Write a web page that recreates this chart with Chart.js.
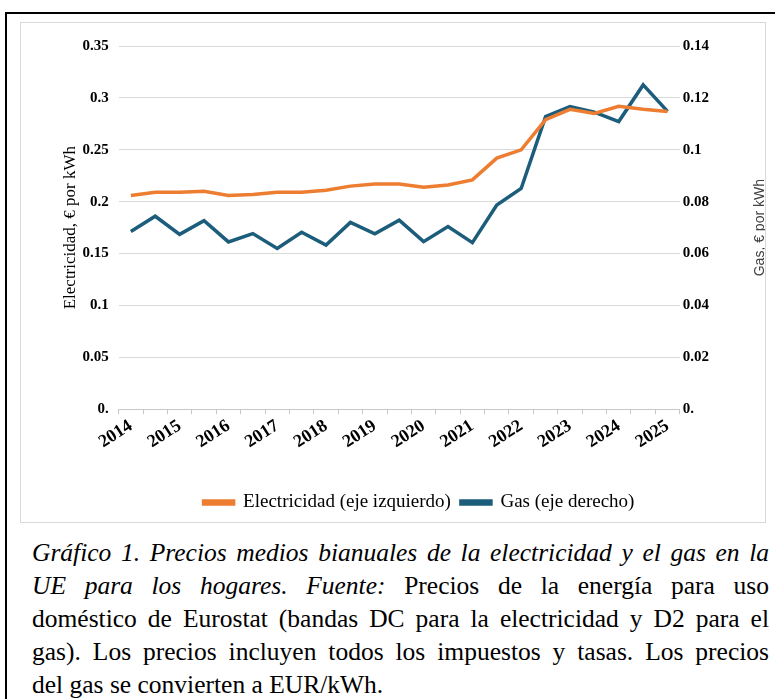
<!DOCTYPE html>
<html>
<head>
<meta charset="utf-8">
<script src="https://cdn.jsdelivr.net/npm/chart.js@4/dist/chart.umd.min.js"></script>
<style>
  html, body { margin: 0; padding: 0; background: #fff; overflow: hidden; }
  #frame { position: absolute; left: 5px; top: 12px; width: 800px; height: 800px; border: 2px solid #000; }
  #box { position: absolute; left: 20px; top: 22px; width: 744px; height: 499px; border: 1px solid #d9d9d9; }
  #wrap { position: absolute; left: 21px; top: 23px; width: 744px; height: 499px; }
  #caption {
    position: absolute; left: 32px; top: 536px; width: 737px;
    font-family: "Liberation Serif", "Times New Roman", serif;
    font-size: 25.5px; line-height: 33px; color: #000;
  }
  #caption .ln { white-space: nowrap; text-align: justify; text-align-last: justify; }
  #caption .ln.fin { text-align: left; text-align-last: left; }
</style>
</head>
<body>
<div id="frame"></div>
<div id="box"></div>
<div id="wrap"><canvas id="chart"></canvas></div>
<div id="caption">
  <div class="ln"><i>Gráfico 1. Precios medios bianuales de la electricidad y el gas en la</i></div>
  <div class="ln"><i>UE para los hogares. Fuente:</i> Precios de la energía para uso</div>
  <div class="ln">doméstico de Eurostat (bandas DC para la electricidad y D2 para el</div>
  <div class="ln">gas). Los precios incluyen todos los impuestos y tasas. Los precios</div>
  <div class="ln fin">del gas se convierten a EUR/kWh.</div>
</div>
<script>
// semestres 2014-S1 ... 2025-S1, etiqueta solo en el primero de cada año
const categories = ['2014', '', '2015', '', '2016', '', '2017', '', '2018', '', '2019', '',
  '2020', '', '2021', '', '2022', '', '2023', '', '2024', '', '2025'];

// €/kWh, eje izquierdo
const electricidad = [0.206, 0.209, 0.209, 0.210, 0.206, 0.207, 0.209, 0.209, 0.211, 0.215, 0.217, 0.217,
  0.214, 0.216, 0.221, 0.242, 0.250, 0.279, 0.289, 0.285, 0.292, 0.289, 0.287];

// €/kWh, eje derecho
const gas = [0.0685, 0.0744, 0.0674, 0.0727, 0.0645, 0.0677, 0.0620, 0.0682, 0.0633, 0.0720, 0.0676, 0.0729,
  0.0646, 0.0704, 0.0642, 0.0787, 0.0851, 0.1128, 0.1167, 0.1145, 0.1109, 0.1250, 0.1148];

const NARANJA = '#ed7d31';
const AZUL = '#1c5d7b';
const TITULO_DER = 'Gas, € por kWh';

function fmt(v) {
  const n = Number(v.toFixed(2));
  return n === 0 ? '0.' : String(n);
}

const tickFont = { family: 'Liberation Serif', size: 15, weight: 'bold' };

// titulo del eje derecho leido de abajo arriba, como en Excel
// y la leyenda un poco desplazada a la derecha
const ajustes = {
  id: 'ajustes',
  afterLayout(chart) {
    chart.legend.left += 33;
    chart.legend.right += 33;
  },
  afterDraw(chart) {
    const ctx = chart.ctx;
    const area = chart.chartArea;
    ctx.save();
    ctx.translate(area.right + 80, (area.top + area.bottom) / 2);
    ctx.rotate(-Math.PI / 2);
    ctx.fillStyle = '#404040';
    ctx.font = '14px "Liberation Sans"';
    ctx.textAlign = 'center';
    ctx.textBaseline = 'middle';
    ctx.fillText(TITULO_DER, 0, 0);
    ctx.restore();
  }
};

new Chart(document.getElementById('chart'), {
  type: 'line',
  data: {
    labels: categories,
    datasets: [
      {
        label: 'Electricidad (eje izquierdo)',
        data: electricidad,
        yAxisID: 'y',
        borderColor: NARANJA,
        backgroundColor: NARANJA,
        borderWidth: 3.5,
        pointRadius: 0,
        tension: 0
      },
      {
        label: 'Gas (eje derecho)',
        data: gas,
        yAxisID: 'y1',
        borderColor: AZUL,
        backgroundColor: AZUL,
        borderWidth: 3.5,
        pointRadius: 0,
        tension: 0
      }
    ]
  },
  options: {
    responsive: true,
    maintainAspectRatio: false,
    animation: false,
    layout: { padding: { top: 23, left: 39, right: 53, bottom: 0 } },
    plugins: {
      legend: {
        position: 'bottom',
        labels: {
          boxWidth: 30,
          boxHeight: 3,
          padding: 10,
          color: '#000',
          font: { family: 'Liberation Serif', size: 19 }
        }
      },
      tooltip: { enabled: false }
    },
    scales: {
      x: {
        offset: true,
        afterFit(scale) { scale.height += 29; },
        grid: { offset: true, drawOnChartArea: false, drawTicks: true, tickLength: 5, color: '#c8c8c8' },
        border: { display: true, color: '#c8c8c8', width: 1 },
        ticks: {
          autoSkip: false,
          maxRotation: 33,
          minRotation: 33,
          color: '#000',
          font: { family: 'Liberation Serif', size: 18, weight: 'bold' },
          padding: 1
        }
      },
      y: {
        position: 'left',
        min: 0,
        max: 0.35,
        ticks: { stepSize: 0.05, callback: fmt, color: '#000', font: tickFont, padding: 10 },
        grid: { color: '#d9d9d9', drawTicks: false },
        border: { display: false },
        title: {
          display: true,
          text: 'Electricidad, € por kWh',
          color: '#000',
          font: { family: 'Liberation Serif', size: 17 },
          padding: { top: 0, bottom: -8 }
        }
      },
      y1: {
        position: 'right',
        min: 0,
        max: 0.14,
        ticks: { stepSize: 0.02, callback: fmt, color: '#000', font: tickFont, padding: 3 },
        grid: { drawOnChartArea: false, drawTicks: false },
        border: { display: false }
      }
    }
  },
  plugins: [ajustes]
});
</script>
</body>
</html>
